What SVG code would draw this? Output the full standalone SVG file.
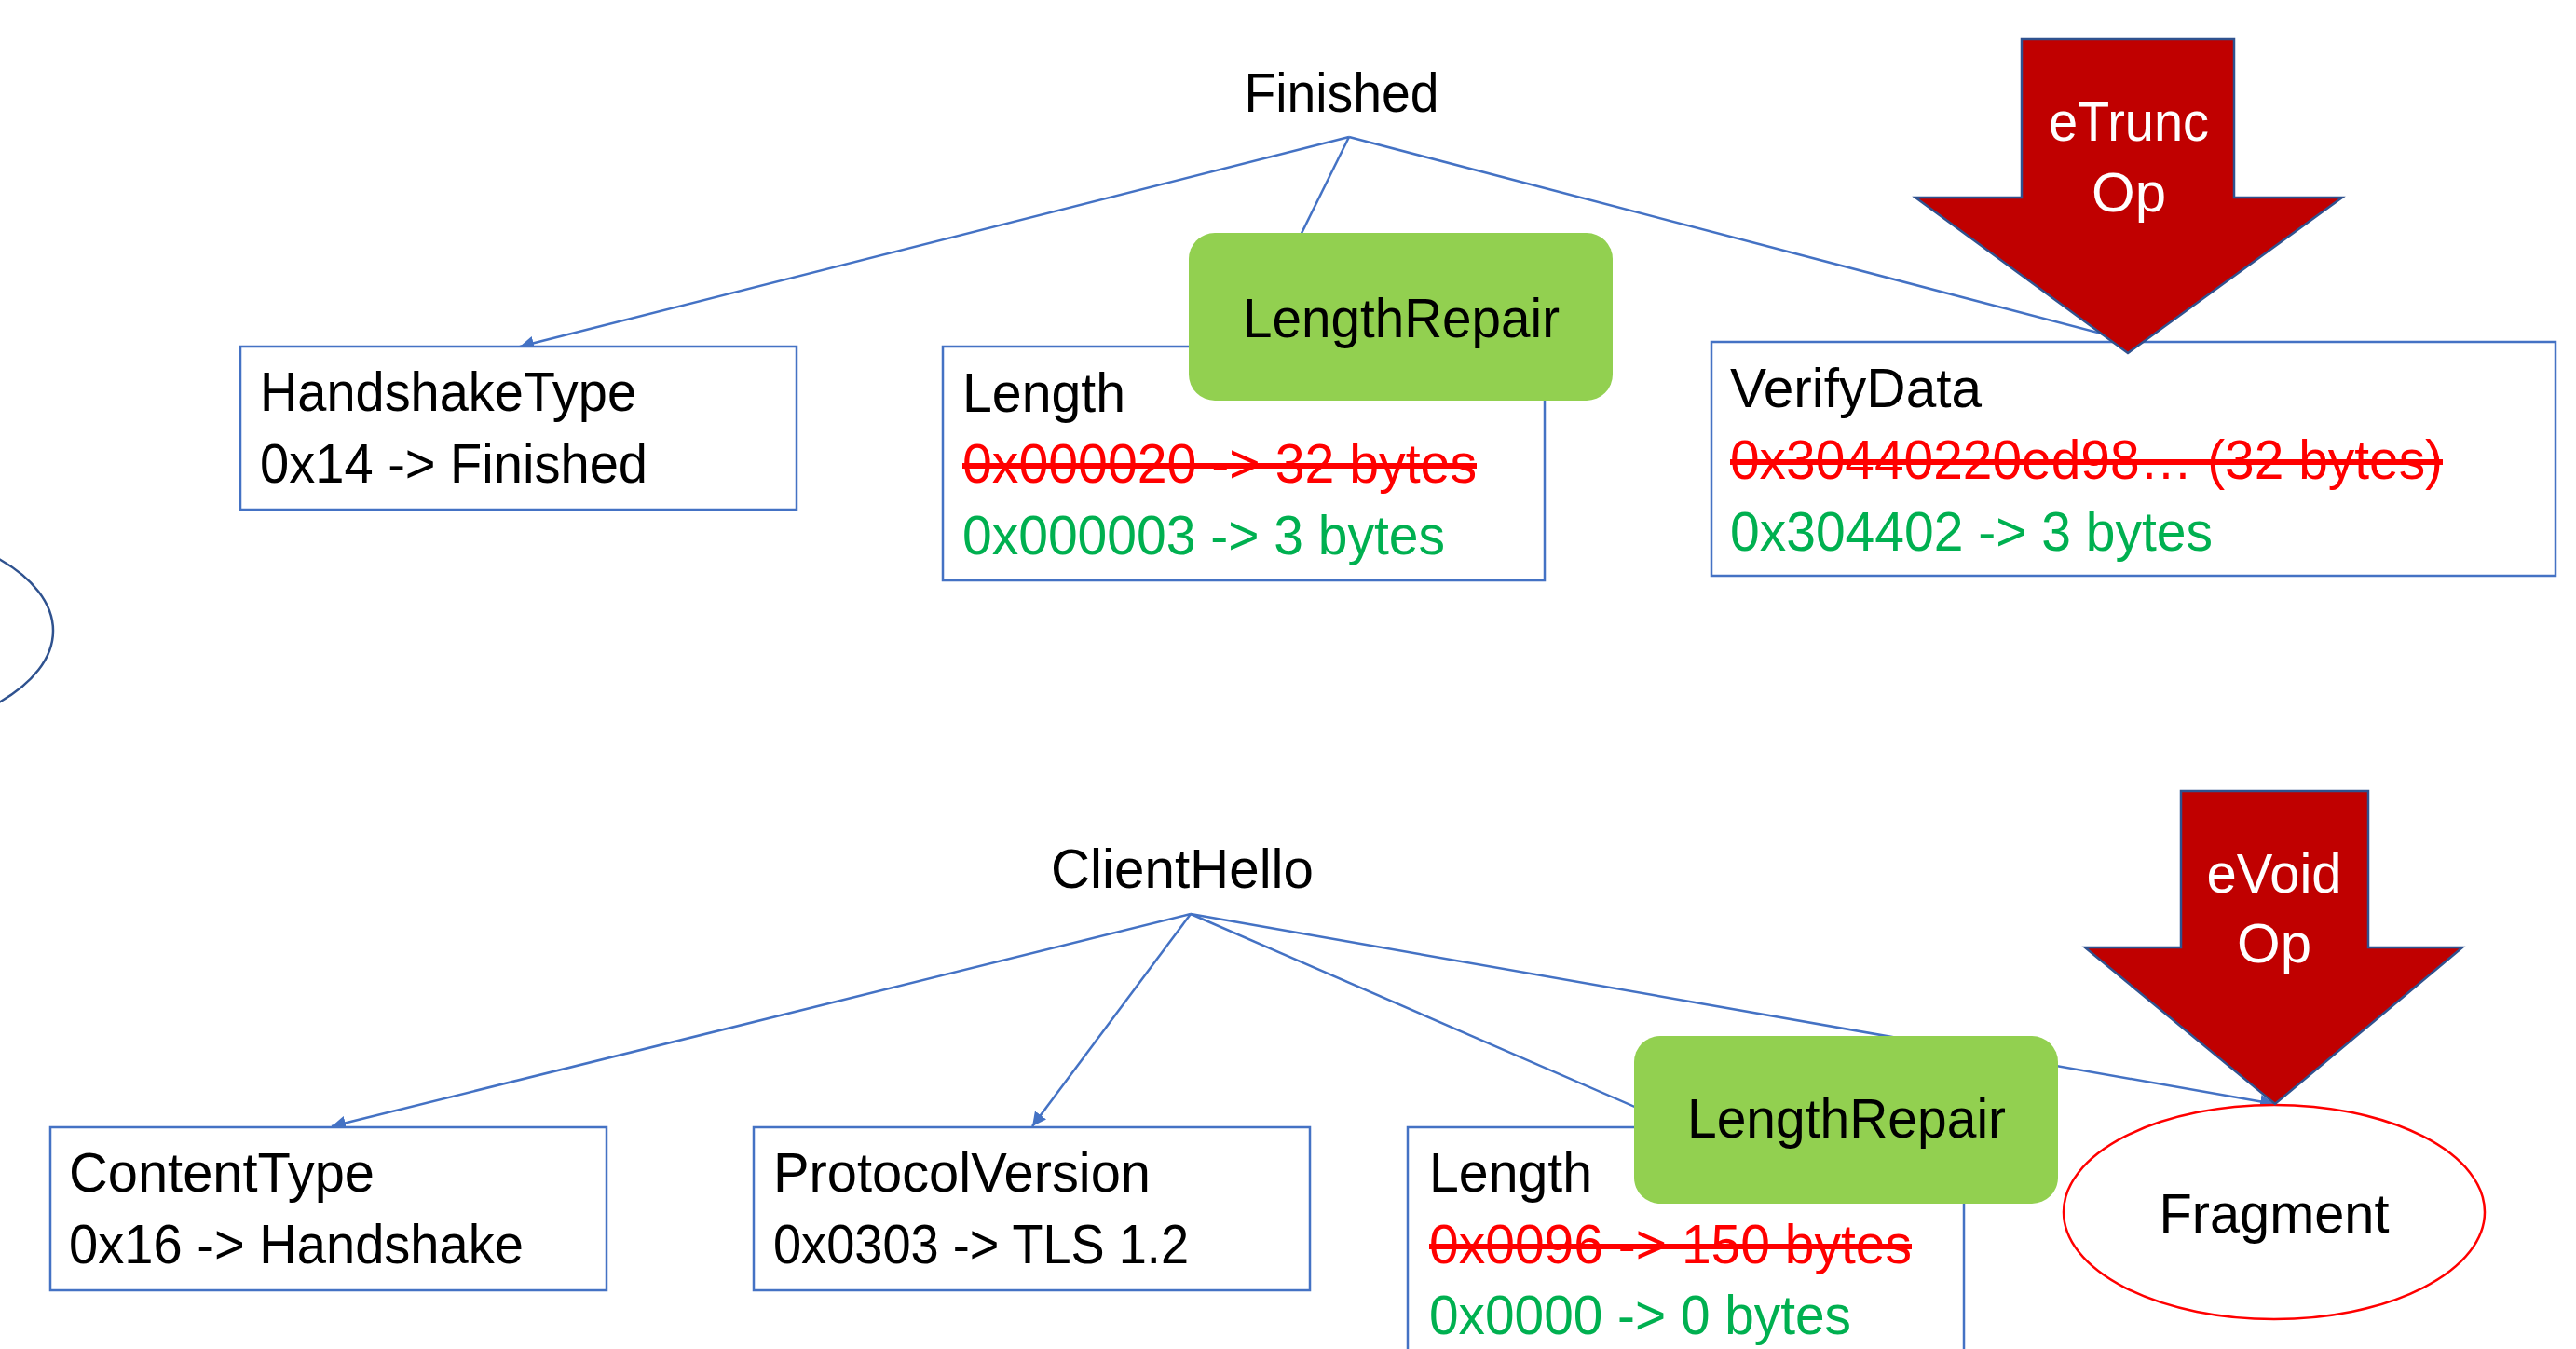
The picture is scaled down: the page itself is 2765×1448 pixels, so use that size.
<svg xmlns="http://www.w3.org/2000/svg" width="2765" height="1448" viewBox="0 0 2765 1448">
  <style>
    text { font-family: "Liberation Sans", Arial, sans-serif; font-size: 60px; fill: #000000; }
    .mid { text-anchor: middle; }
    .old { fill: #FF0000; text-decoration: line-through; }
    .new { fill: #00B050; }
    .light { fill: #FFFFFF; }
    .field { fill: #FFFFFF; stroke: #4472C4; stroke-width: 2.5; }
    .repair { fill: #92D050; stroke: none; }
    .op { fill: #C00000; stroke: #2F528F; stroke-width: 2.5; stroke-linejoin: miter; }
    .edge { fill: none; stroke: #4472C4; stroke-width: 2.5; marker-end: url(#tip); }
  </style>
  <defs>
    <marker id="tip" viewBox="0 0 6 6" refX="6" refY="3" markerWidth="6" markerHeight="6" orient="auto" markerUnits="strokeWidth">
      <path d="M0,0 L6,3 L0,6 Z" fill="#4472C4"/>
    </marker>
  </defs>

  <rect width="2765" height="1448" fill="#FFFFFF"/>

  <!-- partial ellipse at the left edge -->
  <ellipse id="left-ellipse" cx="-169" cy="677" rx="226" ry="115" fill="none" stroke="#2F528F" stroke-width="2.5"/>

  <!-- connectors -->
  <g id="connectors">
    <line class="edge" x1="1448" y1="147" x2="558" y2="372"/>
    <line class="edge" x1="1448" y1="147" x2="1337" y2="372"/>
    <line class="edge" x1="1448" y1="147" x2="2290" y2="367"/>
    <line class="edge" x1="1278" y1="981" x2="356" y2="1209"/>
    <line class="edge" x1="1278" y1="981" x2="1108" y2="1209"/>
    <line class="edge" x1="1278" y1="981" x2="1803" y2="1209"/>
    <line class="edge" x1="1278" y1="981" x2="2441" y2="1185"/>
  </g>

  <!-- Finished message tree -->
  <g id="finished">
    <text class="mid" x="1440" y="120" textLength="209" lengthAdjust="spacingAndGlyphs">Finished</text>
  </g>
  <g id="handshake-type">
    <rect class="field" x="258" y="372" width="597" height="175"/>
    <text x="279" y="441" textLength="404" lengthAdjust="spacingAndGlyphs">HandshakeType</text>
    <text x="279" y="518" textLength="416" lengthAdjust="spacingAndGlyphs">0x14 -&gt; Finished</text>
  </g>
  <g id="finished-length">
    <rect class="field" x="1012" y="372" width="646" height="251"/>
    <text x="1033" y="442" textLength="175" lengthAdjust="spacingAndGlyphs">Length</text>
    <text class="old" x="1033" y="518" textLength="552" lengthAdjust="spacingAndGlyphs">0x000020 -&gt; 32 bytes</text>
    <text class="new" x="1033" y="595" textLength="518" lengthAdjust="spacingAndGlyphs">0x000003 -&gt; 3 bytes</text>
  </g>
  <g id="finished-length-repair">
    <rect class="repair" x="1276" y="250" width="455" height="180" rx="28" ry="28"/>
    <text class="mid" x="1504" y="362" textLength="340" lengthAdjust="spacingAndGlyphs">LengthRepair</text>
  </g>
  <g id="verify-data">
    <rect class="field" x="1837" y="367" width="906" height="251"/>
    <text x="1857" y="437" textLength="270" lengthAdjust="spacingAndGlyphs">VerifyData</text>
    <text class="old" x="1857" y="514" textLength="765" lengthAdjust="spacingAndGlyphs">0x30440220ed98… (32 bytes)</text>
    <text class="new" x="1857" y="591" textLength="518" lengthAdjust="spacingAndGlyphs">0x304402 -&gt; 3 bytes</text>
  </g>
  <g id="etrunc-op">
    <polygon class="op" points="2170,42 2398,42 2398,212 2514,212 2284,379 2056,212 2170,212"/>
    <text class="mid light" x="2285" y="151" textLength="172" lengthAdjust="spacingAndGlyphs">eTrunc</text>
    <text class="mid light" x="2285" y="227">Op</text>
  </g>

  <!-- ClientHello message tree -->
  <g id="client-hello">
    <text class="mid" x="1269" y="953" textLength="282" lengthAdjust="spacingAndGlyphs">ClientHello</text>
  </g>
  <g id="content-type">
    <rect class="field" x="54" y="1210" width="597" height="175"/>
    <text x="74" y="1279" textLength="328" lengthAdjust="spacingAndGlyphs">ContentType</text>
    <text x="74" y="1356" textLength="488" lengthAdjust="spacingAndGlyphs">0x16 -&gt; Handshake</text>
  </g>
  <g id="protocol-version">
    <rect class="field" x="809" y="1210" width="597" height="175"/>
    <text x="830" y="1279" textLength="405" lengthAdjust="spacingAndGlyphs">ProtocolVersion</text>
    <text x="830" y="1356" textLength="446" lengthAdjust="spacingAndGlyphs">0x0303 -&gt; TLS 1.2</text>
  </g>
  <g id="hello-length">
    <rect class="field" x="1511" y="1210" width="597" height="260"/>
    <text x="1534" y="1279" textLength="175" lengthAdjust="spacingAndGlyphs">Length</text>
    <text class="old" x="1534" y="1356" textLength="518" lengthAdjust="spacingAndGlyphs">0x0096 -&gt; 150 bytes</text>
    <text class="new" x="1534" y="1432" textLength="453" lengthAdjust="spacingAndGlyphs">0x0000 -&gt; 0 bytes</text>
  </g>
  <g id="hello-length-repair">
    <rect class="repair" x="1754" y="1112" width="455" height="180" rx="28" ry="28"/>
    <text class="mid" x="1982" y="1221" textLength="342" lengthAdjust="spacingAndGlyphs">LengthRepair</text>
  </g>
  <g id="fragment">
    <ellipse cx="2441" cy="1301" rx="226" ry="115" fill="#FFFFFF" stroke="#FF0000" stroke-width="2.5"/>
    <text class="mid" x="2441" y="1323" textLength="247" lengthAdjust="spacingAndGlyphs">Fragment</text>
  </g>
  <g id="evoid-op">
    <polygon class="op" points="2341,849 2542,849 2542,1017 2643,1017 2442,1185 2238,1017 2341,1017"/>
    <text class="mid light" x="2441" y="958" textLength="145" lengthAdjust="spacingAndGlyphs">eVoid</text>
    <text class="mid light" x="2441" y="1033">Op</text>
  </g>
</svg>
